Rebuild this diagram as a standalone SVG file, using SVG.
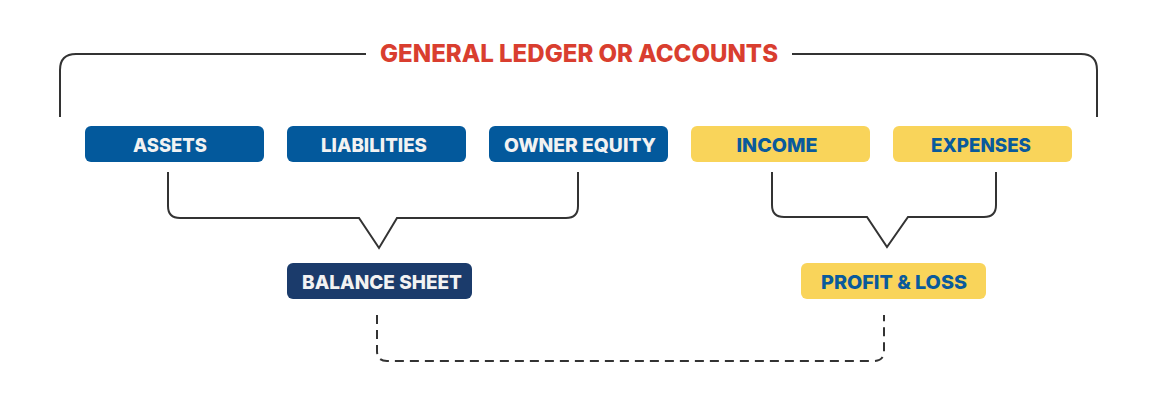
<svg xmlns="http://www.w3.org/2000/svg" width="1156" height="418" viewBox="0 0 1156 418">
<style>
.line{fill:none;stroke:#333333;stroke-width:2;stroke-linejoin:miter}
.dash{fill:none;stroke:#333333;stroke-width:2;stroke-dasharray:9 6}
.blue{fill:#03599C}
.navy{fill:#1B3B6B}
.yellow{fill:#F9D45A}
.t{font-family:Inter,"Open Sans","Liberation Sans",sans-serif;font-weight:800;font-size:19px;text-anchor:middle}
.tw{fill:#F2F2F2}
.tb{fill:#0A5A9C}
.title{font-family:Inter,"Open Sans","Liberation Sans",sans-serif;font-weight:800;font-size:24px;fill:#D93E2F;text-anchor:middle}
</style>
<rect width="1156" height="418" fill="#FFFFFF"/>
<g id="connectors">
<path class="line" d="M60,117 V70 Q60,54 76,54 H366"/>
<path class="line" d="M792,54 H1081 Q1097,54 1097,70 V117"/>
<path class="line" d="M168,172 V206 Q168,218 180,218 H359 L379,248 L397,218 H566 Q578,218 578,206 V172"/>
<path class="line" d="M772,172 V205 Q772,217 784,217 H867 L887,247 L908,217 H984 Q996,217 996,205 V172"/>
<path class="dash" d="M377,315 V351 Q377,361 387,361 H874 Q884,361 884,351 V315"/>
</g>
<g id="title">
<text class="title" x="579" y="62" textLength="398" lengthAdjust="spacingAndGlyphs">GENERAL LEDGER OR ACCOUNTS</text>
</g>
<g id="assets">
<rect class="blue" x="85" y="126" width="179" height="36" rx="6"/>
<text class="t tw" x="170" y="151.5" textLength="74" lengthAdjust="spacingAndGlyphs">ASSETS</text>
</g>
<g id="liabilities">
<rect class="blue" x="287" y="126" width="179" height="36" rx="6"/>
<text class="t tw" x="374" y="151.5" textLength="106" lengthAdjust="spacingAndGlyphs">LIABILITIES</text>
</g>
<g id="owner-equity">
<rect class="blue" x="489" y="126" width="179" height="36" rx="6"/>
<text class="t tw" x="580" y="151.5" textLength="152" lengthAdjust="spacingAndGlyphs">OWNER EQUITY</text>
</g>
<g id="income">
<rect class="yellow" x="691" y="126" width="179" height="36" rx="6"/>
<text class="t tb" x="777" y="151.5" textLength="81" lengthAdjust="spacingAndGlyphs">INCOME</text>
</g>
<g id="expenses">
<rect class="yellow" x="893" y="126" width="179" height="36" rx="6"/>
<text class="t tb" x="981" y="151.5" textLength="100" lengthAdjust="spacingAndGlyphs">EXPENSES</text>
</g>
<g id="balance-sheet">
<rect class="navy" x="287" y="263" width="185" height="36" rx="6"/>
<text class="t tw" x="382" y="288.5" textLength="160" lengthAdjust="spacingAndGlyphs">BALANCE SHEET</text>
</g>
<g id="profit-loss">
<rect class="yellow" x="801" y="263" width="185" height="36" rx="6"/>
<text class="t tb" x="894" y="288.5" textLength="146" lengthAdjust="spacingAndGlyphs">PROFIT &amp; LOSS</text>
</g>
</svg>
